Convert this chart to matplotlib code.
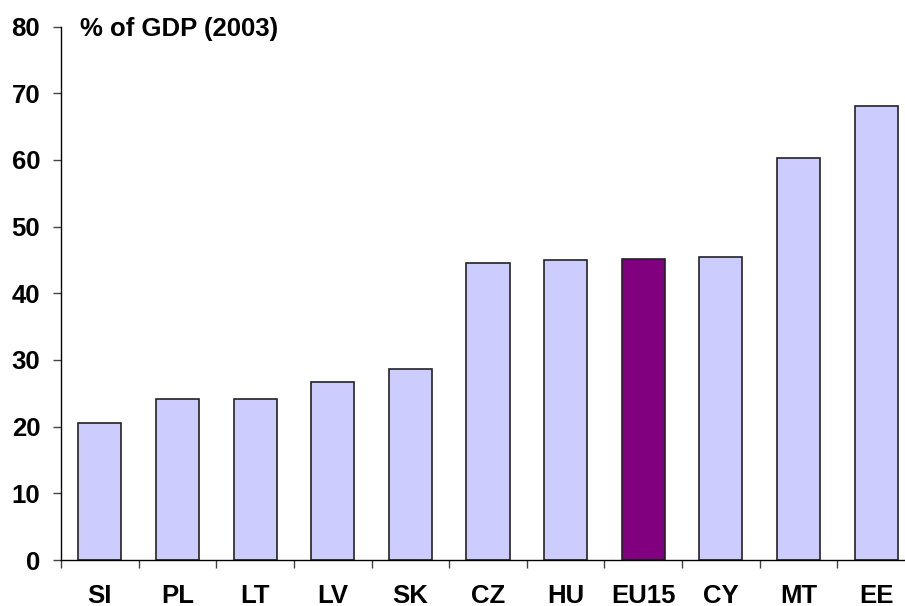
import matplotlib.pyplot as plt

countries = ["SI", "PL", "LT", "LV", "SK", "CZ", "HU", "EU15", "CY", "MT", "EE"]
share_gdp = [20.6, 24.1, 24.1, 26.7, 28.7, 44.6, 45.0, 45.2, 45.4, 60.3, 68.1]
highlight = "EU15"

plt.rcParams["font.family"] = ["Liberation Sans", "DejaVu Sans"]
plt.rcParams["font.weight"] = "bold"

fig = plt.figure(figsize=(9.05, 6.06), dpi=100)
# x range runs past the right edge of the figure, like the original layout
ax = fig.add_axes([61 / 905, 46 / 606, 854 / 905, 533.5 / 606])

colors = ["#800080" if c == highlight else "#CCCCFF" for c in countries]
x = range(len(countries))
ax.bar(x, share_gdp, width=0.555, color=colors, edgecolor="#222222", linewidth=1.2)

ax.set_xlim(-0.5, len(countries) - 0.5)
ax.set_ylim(0, 80)
ax.set_yticks(range(0, 81, 10))

# ticks on x sit between the categories, labels under the bars
ax.set_xticks([i + 0.5 for i in range(-1, len(countries))])
ax.set_xticklabels([])
ax.set_xticks(list(x), minor=True)
ax.set_xticklabels(countries, minor=True, fontsize=18.5, fontweight="bold")
ax.tick_params(axis="x", which="minor", length=0, pad=17)
ax.tick_params(axis="x", which="major", length=6, width=1, color="#444444", direction="out")
ax.tick_params(axis="y", length=6, width=1, color="#444444", direction="out", pad=9, labelsize=18.5)
for lbl in ax.get_yticklabels():
    lbl.set_fontweight("bold")

for side in ("top", "right"):
    ax.spines[side].set_visible(False)
for side in ("left", "bottom"):
    ax.spines[side].set_color("black")
    ax.spines[side].set_linewidth(1)

fig.text(80 / 905, 1 - 29 / 606, "% of GDP (2003)", fontsize=18.5, fontweight="bold",
         ha="left", va="center")

fig.savefig("out.png", dpi=100)
